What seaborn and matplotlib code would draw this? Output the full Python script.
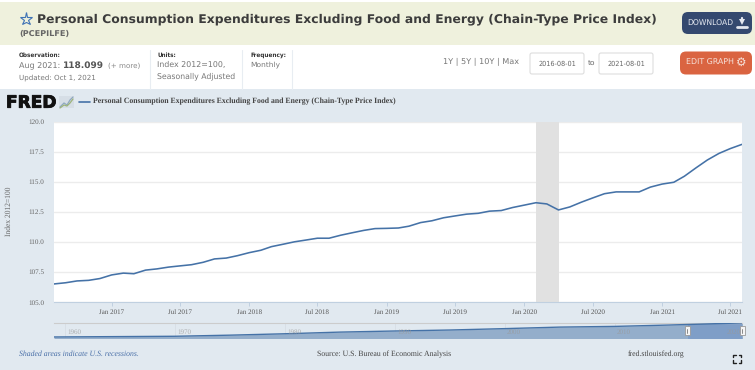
import matplotlib
matplotlib.use("Agg")
import matplotlib.pyplot as plt
import matplotlib.patheffects as pe
from matplotlib.patches import FancyBboxPatch, Rectangle
import pandas as pd
import seaborn as sns

# ---- data ----
values = [
    106.50, 106.60, 106.75, 106.80, 106.95,
    107.25, 107.40, 107.35, 107.65, 107.75, 107.90, 108.00, 108.10, 108.30, 108.58, 108.65, 108.85,
    109.10, 109.30, 109.60, 109.80, 110.00, 110.15, 110.30, 110.30, 110.55, 110.75, 110.95, 111.10,
    111.12, 111.15, 111.30, 111.60, 111.75, 112.00, 112.15, 112.30, 112.37, 112.55, 112.60, 112.85,
    113.05, 113.25, 113.15, 112.65, 112.90, 113.30, 113.65, 114.00, 114.15, 114.15, 114.15, 114.55,
    114.80, 114.95, 115.45, 116.15, 116.80, 117.35, 117.75, 118.10,
]
dates = pd.date_range("2016-08-01", periods=len(values), freq="MS")
y_ticks = [105.0, 107.5, 110.0, 112.5, 115.0, 117.5, 120.0]
x_tick_labels = ["Jan 2017", "Jul 2017", "Jan 2018", "Jul 2018", "Jan 2019",
                 "Jul 2019", "Jan 2020", "Jul 2020", "Jan 2021", "Jul 2021"]
x_tick_dates = pd.to_datetime(x_tick_labels, format="%b %Y")
recession = ("2020-02-01", "2020-04-01")

nav_years = [1959.0, 1970, 1975, 1980, 1985, 1990, 1995, 2000, 2005, 2010, 2015, 2021.6]
nav_values = [17, 22, 30, 40, 52, 60, 67, 77, 88, 93, 103, 118]
nav_decades = [1960, 1970, 1980, 1990, 2000, 2010, 2020]

TITLE = "Personal Consumption Expenditures Excluding Food and Energy (Chain-Type Price Index)"

# ---- style ----
sns.set_style("white")
plt.rcParams["font.family"] = ["DejaVu Sans"]
plt.rcParams["text.hinting"] = "no_hinting"
W, H = 755, 370
PANEL = "#e1e9f0"
LINE = "#4572a7"
SERIF = "Liberation Serif"
fig = plt.figure(figsize=(W / 100, H / 100), dpi=100, facecolor="white")
renderer = fig.canvas.get_renderer()

# page chrome, addressed in pixels
bg = fig.add_axes([0, 0, 1, 1], zorder=0)
bg.set_xlim(0, W); bg.set_ylim(H, 0); bg.axis("off")
bg.add_patch(Rectangle((0, 2), W, 42.5, fc="#eff1dd", ec="none"))
bg.add_patch(Rectangle((0, 89), W, H - 89, fc=PANEL, ec="none"))
for x in (150, 242, 292):
    bg.plot([x, x], [50, 89], color="#e8edf2", lw=0.8)

def txt(x, y, s, width, color="#555555", **kw):
    """Place a text and scale its font so it spans `width` pixels."""
    kw.setdefault("va", "center")
    t = bg.text(x, y, s, fontsize=8, color=color, **kw)
    t.set_fontsize(8 * width / t.get_window_extent(renderer).width)
    return t

def button(x0, y0, x1, y1, color):
    bg.add_patch(FancyBboxPatch((x0 + 5, y0 + 5), x1 - x0 - 10, y1 - y0 - 10,
                                boxstyle="round,pad=5,rounding_size=6", fc=color, ec="none"))

bg.plot([26], [19], marker="*", ms=9.5, mfc="none", mec="#3f73b5", mew=0.8)
txt(37, 19, TITLE, 619, "#3c3c3c", fontweight="bold")
txt(19, 33.5, "(PCEPILFE)", 50, "#666666", fontweight="bold")

txt(19, 55, "Observation:", 42, "#333333", fontweight="bold")
txt(19, 66, "Aug 2021:", 41, "#777777")
txt(63, 65.5, "118.099", 41, "#555555", fontweight="bold")
txt(108, 66, "(+ more)", 32.5, "#888888")
txt(19, 78, "Updated: Oct 1, 2021", 77, "#777777")
txt(157, 55, "Units:", 19, "#333333", fontweight="bold")
txt(157, 65, "Index 2012=100,", 68, "#777777")
txt(157, 76, "Seasonally Adjusted", 78, "#777777")
txt(250, 55, "Frequency:", 36, "#333333", fontweight="bold")
txt(250, 65, "Monthly", 30, "#777777")
txt(443, 62, "1Y | 5Y | 10Y | Max", 76, "#777777")

for x0, x1, label in ((530, 584, "2016-08-01"), (599, 653, "2021-08-01")):
    bg.add_patch(FancyBboxPatch((x0 + 1, 54), x1 - x0 - 2, 19,
                                boxstyle="round,pad=1,rounding_size=2", fc="white", ec="#dddddd", lw=0.8))
    txt((x0 + x1) / 2, 64, label, 38, "#666666", ha="center")
txt(591.5, 64, "to", 7.5, "#666666", ha="center")

button(682, 12, 752, 34, "#34496f")
txt(687.5, 24, "DOWNLOAD", 46.5, "#e4e8ef")
bg.plot([741.5], [22], marker="v", ms=4.5, color="#e4e8ef", mew=0)
bg.plot([741.5, 741.5], [18, 21], color="#e4e8ef", lw=1.6)
bg.plot([736.5, 746.5], [27, 27], color="#e4e8ef", lw=2)

button(680, 51.5, 752, 74.5, "#da6441")
txt(686, 63, "EDIT GRAPH", 48, "#f6e1da")
bg.text(741.5, 62.5, "\u2699", fontsize=8.5, color="#f6e1da", ha="center", va="center", fontweight="bold")

# FRED logo and legend line
logo = txt(6, 103, "FRED", 50.5, "#111111", fontweight="bold")
logo.set_path_effects([pe.withStroke(linewidth=0.6, foreground="#111111")])
bg.add_patch(Rectangle((59, 96), 15, 12, fc="#d6dee6", ec="none"))
bg.plot([60, 64, 67, 70, 73], [107, 103, 105, 100, 97], color="#8fa8bf", lw=0.9)
bg.plot([60, 64, 67, 70, 73], [108, 105, 106, 103, 99], color="#9db37a", lw=0.9)
bg.plot([79, 90], [102, 102], color=LINE, lw=1.2)
txt(93, 101.5, TITLE, 303, "#444444", family=SERIF, fontweight="bold")

# main chart
ax = fig.add_axes([54 / W, 1 - 302 / H, 688 / W, (302 - 121.5) / H], zorder=2, facecolor="white")
df = pd.DataFrame({"date": dates, "value": values})
ax.axvspan(pd.Timestamp(recession[0]), pd.Timestamp(recession[1]), color="#e1e1e1", lw=0, zorder=1.5)
sns.lineplot(data=df, x="date", y="value", ax=ax, color=LINE, lw=1.15, zorder=3)
ax.set_xlim(dates[0], dates[-1])
ax.set_ylim(105, 120)
ax.set_yticks(y_ticks)
ax.set_yticklabels([f"{v:.1f}" for v in y_ticks], family=SERIF, fontsize=5.1, color="#666666")
ax.set_xticks(x_tick_dates)
ax.set_xticklabels(x_tick_labels, family=SERIF, fontsize=5.05, color="#555555")
ax.set_xlabel("")
ax.set_ylabel("Index 2012=100", family=SERIF, fontsize=5.45, color="#666666")
ax.yaxis.set_label_coords(-0.0596, 0.5)
ax.yaxis.grid(True, color="#ececec", lw=1)
ax.xaxis.grid(False)
ax.set_axisbelow(True)
ax.tick_params(axis="y", length=0, pad=7.2)
ax.tick_params(axis="x", length=3, width=0.7, color="#c0d0e0", pad=2, bottom=True)
for name, spine in ax.spines.items():
    spine.set_visible(name == "bottom")
    spine.set_color("#c0d0e0")
    spine.set_linewidth(0.8)

# navigator
nav = fig.add_axes([54 / W, 1 - 338.5 / H, 688 / W, 16 / H], zorder=2, facecolor=PANEL)
ndf = pd.DataFrame({"year": nav_years, "value": nav_values})
nav.fill_between(nav_years, nav_values, 6, color="#94aecb", lw=0)
nav.axvspan(2016.6, 2021.6, color="#7f9ec7", lw=0, zorder=1.8)
sns.lineplot(data=ndf, x="year", y="value", ax=nav, color=LINE, lw=1, zorder=3)
nav.set_xlim(1959, 2021.55)
nav.set_ylim(6, 121)
nav.set_xlabel(""); nav.set_ylabel("")
nav.set_yticks([])
nav.set_xticks(nav_decades)
nav.tick_params(axis="x", length=0, labelbottom=False)
nav.xaxis.grid(True, color="#d8dfe6", lw=0.7)
nav.set_axisbelow(True)
for d in nav_decades:
    nav.text(d + 0.2, 50, str(d), family=SERIF, fontsize=5, color="#999999", alpha=0.75,
             va="center", zorder=4)
for s in ("left", "right", "bottom"):
    nav.spines[s].set_visible(False)
nav.spines["top"].set_color("#cccccc")
nav.spines["top"].set_linewidth(0.8)

# overlay for navigator handles
top = fig.add_axes([0, 0, 1, 1], zorder=5)
top.set_xlim(0, W); top.set_ylim(H, 0); top.axis("off"); top.patch.set_alpha(0)
for x in (687, 742):
    top.add_patch(Rectangle((x - 2, 326), 4.5, 9, fc="#f5f5f5", ec="#999999", lw=0.6))
    top.plot([x + 0.2, x + 0.2], [328.5, 332.5], color="#777777", lw=0.6)

# footer
txt(19, 354, "Shaded areas indicate U.S. recessions.", 120, "#4a70a8", family=SERIF, style="italic")
txt(317, 354, "Source: U.S. Bureau of Economic Analysis", 135, "#444444", family=SERIF)
txt(628, 354, "fred.stlouisfed.org", 57, "#444444", family=SERIF)

for cx, cy, sx, sy in ((733, 354.5, 1, 1), (741, 354.5, -1, 1), (733, 362.5, 1, -1), (741, 362.5, -1, -1)):
    bg.plot([cx + 2.5 * sx, cx, cx], [cy, cy, cy + 2.5 * sy], color="#222222", lw=1)

fig.savefig("out.png", dpi=100, facecolor="white")
